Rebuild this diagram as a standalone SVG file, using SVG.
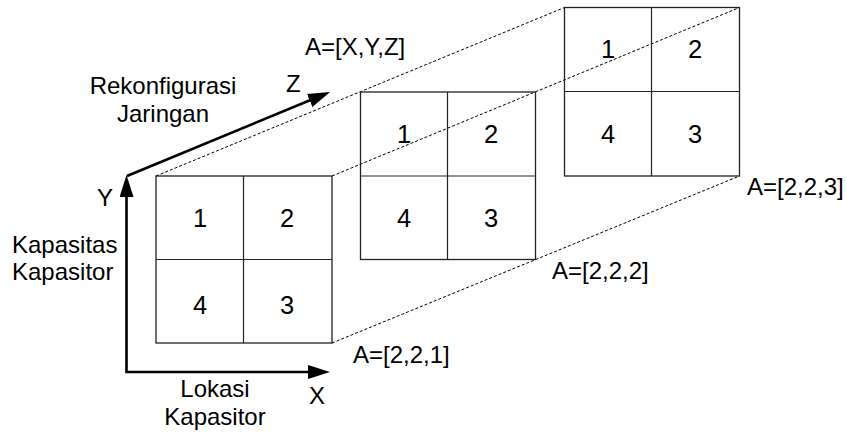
<svg xmlns="http://www.w3.org/2000/svg" width="847" height="432" viewBox="0 0 847 432">
  <style>
    text { font-family: "Liberation Sans", Arial, sans-serif; font-size: 24px; fill: #000; }
    .num { text-anchor: middle; font-size: 25.5px; }
    .mid { text-anchor: middle; }
    .frame { fill: none; stroke: #222; stroke-width: 1.3; }
    .grid { stroke: #222; stroke-width: 1.2; }
    .guide { fill: none; stroke: #000; stroke-width: 1; stroke-dasharray: 3 2; }
    .axis { fill: none; stroke: #000; stroke-width: 2.6; }
  </style>
  <defs>
    <marker id="arrow" markerUnits="userSpaceOnUse" markerWidth="24" markerHeight="16" refX="16" refY="7" orient="auto">
      <path d="M0,0 L22,7 L0,14 Z" fill="#000"/>
    </marker>
  </defs>

  <rect width="847" height="432" fill="#fff"/>

  <!-- perspective guide lines -->
  <g id="connectors">
    <line class="guide" x1="156" y1="176" x2="564.5" y2="7.5"/>
    <line class="guide" x1="332" y1="176" x2="739.5" y2="7.5"/>
    <line class="guide" x1="332" y1="343" x2="739.5" y2="176"/>
  </g>

  <!-- axes -->
  <g id="axes">
    <path class="axis" d="M126.5,372 L126.5,181" marker-end="url(#arrow)"/>
    <path class="axis" d="M125.2,372 L324,372" marker-end="url(#arrow)"/>
    <path class="axis" d="M127,176 L324.5,94.3" marker-end="url(#arrow)"/>
    <text x="97" y="206">Y</text>
    <text x="309" y="404">X</text>
    <text x="286" y="92">Z</text>
  </g>

  <!-- grid A=[2,2,1] -->
  <g id="grid1">
    <rect class="frame" x="156" y="176" width="176" height="167"/>
    <line class="grid" x1="243.5" y1="176" x2="243.5" y2="343"/>
    <line class="grid" x1="156" y1="259.5" x2="332" y2="259.5"/>
    <text class="num" x="200" y="226.5">1</text>
    <text class="num" x="287" y="226.5">2</text>
    <text class="num" x="200" y="313.5">4</text>
    <text class="num" x="287" y="313.5">3</text>
  </g>

  <!-- grid A=[2,2,2] -->
  <g id="grid2">
    <rect class="frame" x="360.5" y="92" width="175" height="167.5"/>
    <line class="grid" x1="447.5" y1="92" x2="447.5" y2="259.5"/>
    <line class="grid" x1="360.5" y1="176" x2="535.5" y2="176"/>
    <text class="num" x="404" y="143">1</text>
    <text class="num" x="491" y="143">2</text>
    <text class="num" x="404" y="227">4</text>
    <text class="num" x="491" y="227">3</text>
  </g>

  <!-- grid A=[2,2,3] -->
  <g id="grid3">
    <rect class="frame" x="564.5" y="7.5" width="175" height="168.5"/>
    <line class="grid" x1="651.5" y1="7.5" x2="651.5" y2="176"/>
    <line class="grid" x1="564.5" y1="91.5" x2="739.5" y2="91.5"/>
    <text class="num" x="608" y="58">1</text>
    <text class="num" x="695" y="58">2</text>
    <text class="num" x="608" y="143">4</text>
    <text class="num" x="695" y="143">3</text>
  </g>

  <!-- labels -->
  <g id="labels">
    <text class="mid" x="163" y="94">Rekonfigurasi</text>
    <text class="mid" x="163" y="122">Jaringan</text>
    <text x="12" y="253">Kapasitas</text>
    <text x="12" y="280">Kapasitor</text>
    <text class="mid" x="215" y="397">Lokasi</text>
    <text class="mid" x="215" y="425">Kapasitor</text>
    <text x="305" y="55">A=[X,Y,Z]</text>
    <text x="353" y="363">A=[2,2,1]</text>
    <text x="552" y="279">A=[2,2,2]</text>
    <text x="747" y="195">A=[2,2,3]</text>
  </g>
</svg>
